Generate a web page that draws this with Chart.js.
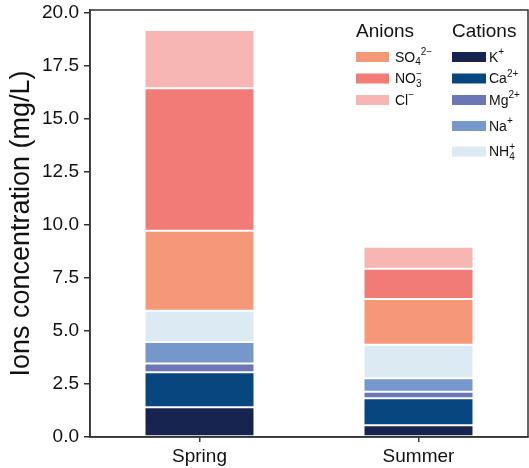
<!DOCTYPE html>
<html>
<head>
<meta charset="utf-8">
<script src="https://cdn.jsdelivr.net/npm/chart.js@4/dist/chart.umd.min.js"></script>
<style>
  html, body { margin: 0; padding: 0; background: #fff; }
  #wrap { width: 529px; height: 468px; }
</style>
</head>
<body>
<div id="wrap"><canvas id="chart" width="529" height="468"></canvas></div>
<script>
// Seasons on the x axis
const categories = ['Spring', 'Summer'];

// Ion concentrations (mg/L), stacked bottom to top
const kPlus  = [1.40, 0.55];
const caIon  = [1.65, 1.28];
const mgIon  = [0.42, 0.31];
const naIon  = [1.01, 0.63];
const nh4Ion = [1.47, 1.58];
const so4Ion = [3.78, 2.16];
const no3Ion = [6.72, 1.42];
const clIon  = [2.75, 1.04];

// Y tick values and their labels
const yTickValues = [0, 2.5, 5, 7.5, 10, 12.5, 15, 17.5, 20];
const yTickLabels = ['0.0', '2.5', '5.0', '7.5', '10.0', '12.5', '15.0', '17.5', '20.0'];

// Legend labels split into normal / subscript / superscript pieces
const anionNames = [
  [{t: 'SO'}, {t: '4', sub: true}, {t: '2\u2212', sup: true}],
  [{t: 'NO'}, {t: '3', sub: true}, {t: '\u2212', sup: true, over: true}],
  [{t: 'Cl'}, {t: '\u2212', sup: true}]
];
const cationNames = [
  [{t: 'K'}, {t: '+', sup: true}],
  [{t: 'Ca'}, {t: '2+', sup: true}],
  [{t: 'Mg'}, {t: '2+', sup: true}],
  [{t: 'Na'}, {t: '+', sup: true}],
  [{t: 'NH'}, {t: '4', sub: true}, {t: '+', sup: true, over: true}]
];

const FONT = '"Liberation Sans", Arial, Helvetica, sans-serif';
const AXIS_COLOR = '#333333';

function series(label, data, color, group) {
  return {
    label, data, backgroundColor: color, group,
    borderColor: '#ffffff',
    borderWidth: {top: 1, bottom: 1, left: 0, right: 0},
    borderSkipped: false,
    categoryPercentage: 1.0,
    barPercentage: 0.495
  };
}

const datasets = [
  series('K+', kPlus, '#17244f', 'cation'),
  series('Ca2+', caIon, '#07467f', 'cation'),
  series('Mg2+', mgIon, '#6b76b6', 'cation'),
  series('Na+', naIon, '#7597cb', 'cation'),
  series('NH4+', nh4Ion, '#dbeaf3', 'cation'),
  series('SO42-', so4Ion, '#f59878', 'anion'),
  series('NO3-', no3Ion, '#f27b76', 'anion'),
  series('Cl-', clIon, '#f7b6b3', 'anion')
];

// Draws a label made of normal, subscript and superscript pieces
function drawRich(ctx, x, y, parts, size) {
  const small = Math.round(size * 0.72);
  let cx = x, prevStart = x;
  ctx.textBaseline = 'middle';
  ctx.textAlign = 'left';
  parts.forEach(p => {
    let dy = 0;
    if (p.sub) { ctx.font = small + 'px ' + FONT; dy = size * 0.32; }
    else if (p.sup) { ctx.font = small + 'px ' + FONT; dy = -size * 0.38; }
    else { ctx.font = size + 'px ' + FONT; }
    const startX = p.over ? prevStart : cx;
    ctx.fillText(p.t, startX, y + dy);
    const w = ctx.measureText(p.t).width;
    prevStart = startX;
    cx = Math.max(cx, startX + w);
  });
}

// Two-column legend: anions on the left, cations on the right
const groupedLegend = {
  id: 'groupedLegend',
  afterDraw(chart) {
    const ctx = chart.ctx;
    ctx.save();
    ctx.fillStyle = '#111';
    ctx.font = '19px ' + FONT;
    ctx.textBaseline = 'middle';
    ctx.textAlign = 'left';
    ctx.fillText('Anions', 356, 32);
    ctx.fillText('Cations', 452, 32);

    const anionSets = chart.data.datasets.filter(d => d.group === 'anion');
    const cationSets = chart.data.datasets.filter(d => d.group === 'cation');
    const anionRows = [57, 78.5, 100];
    const cationRows = [57, 78.5, 100, 126, 151.5];

    anionSets.forEach((d, i) => {
      ctx.fillStyle = d.backgroundColor;
      ctx.fillRect(356, anionRows[i] - 5, 33, 10);
      ctx.fillStyle = '#111';
      drawRich(ctx, 395, anionRows[i] + 1, anionNames[i], 14);
    });
    cationSets.forEach((d, i) => {
      ctx.fillStyle = d.backgroundColor;
      ctx.fillRect(452, cationRows[i] - 5, 34, 10);
      ctx.fillStyle = '#111';
      drawRich(ctx, 489, cationRows[i] + 1, cationNames[i], 14);
    });
    ctx.restore();
  }
};

// Closed frame around the plotting area
const frameBox = {
  id: 'frameBox',
  afterDatasetsDraw(chart) {
    const {left, top, right, bottom} = chart.chartArea;
    const ctx = chart.ctx;
    ctx.save();
    ctx.strokeStyle = AXIS_COLOR;
    ctx.lineWidth = 1.5;
    ctx.strokeRect(left, top, right - left, bottom - top);
    ctx.restore();
  }
};

new Chart(document.getElementById('chart'), {
  type: 'bar',
  data: { labels: categories, datasets },
  options: {
    responsive: false,
    animation: false,
    layout: { padding: { top: 10, right: 1, left: 0, bottom: 0 } },
    plugins: {
      legend: { display: false },
      tooltip: { enabled: false }
    },
    scales: {
      x: {
        stacked: true,
        grid: { display: true, drawOnChartArea: false, offset: false, tickLength: 5, color: AXIS_COLOR, lineWidth: 1.5 },
        border: { display: true, color: AXIS_COLOR, width: 1.5 },
        ticks: { color: '#111', font: { family: FONT, size: 19 }, padding: 3 },
        afterFit(scale) { scale.height = 31; scale.paddingLeft = 0; scale.paddingRight = 0; }
      },
      y: {
        stacked: true,
        min: 0,
        max: 20.14,
        afterBuildTicks(scale) { scale.ticks = yTickValues.map(v => ({ value: v })); },
        grid: { display: true, drawOnChartArea: false, tickLength: 6, color: AXIS_COLOR, lineWidth: 1.5 },
        border: { display: true, color: AXIS_COLOR, width: 1.5 },
        ticks: {
          color: '#111',
          font: { family: FONT, size: 19 },
          padding: 5,
          callback: (v) => {
            const i = yTickValues.indexOf(v);
            return i >= 0 ? yTickLabels[i] : '';
          }
        },
        title: {
          display: true,
          text: 'Ions concentration (mg/L)',
          color: '#111',
          font: { family: FONT, size: 27 },
          padding: { top: 5, bottom: 0 }
        },
        afterFit(scale) { scale.width = 90; scale.paddingTop = 0; scale.paddingBottom = 0; }
      }
    }
  },
  plugins: [frameBox, groupedLegend]
});
</script>
</body>
</html>
